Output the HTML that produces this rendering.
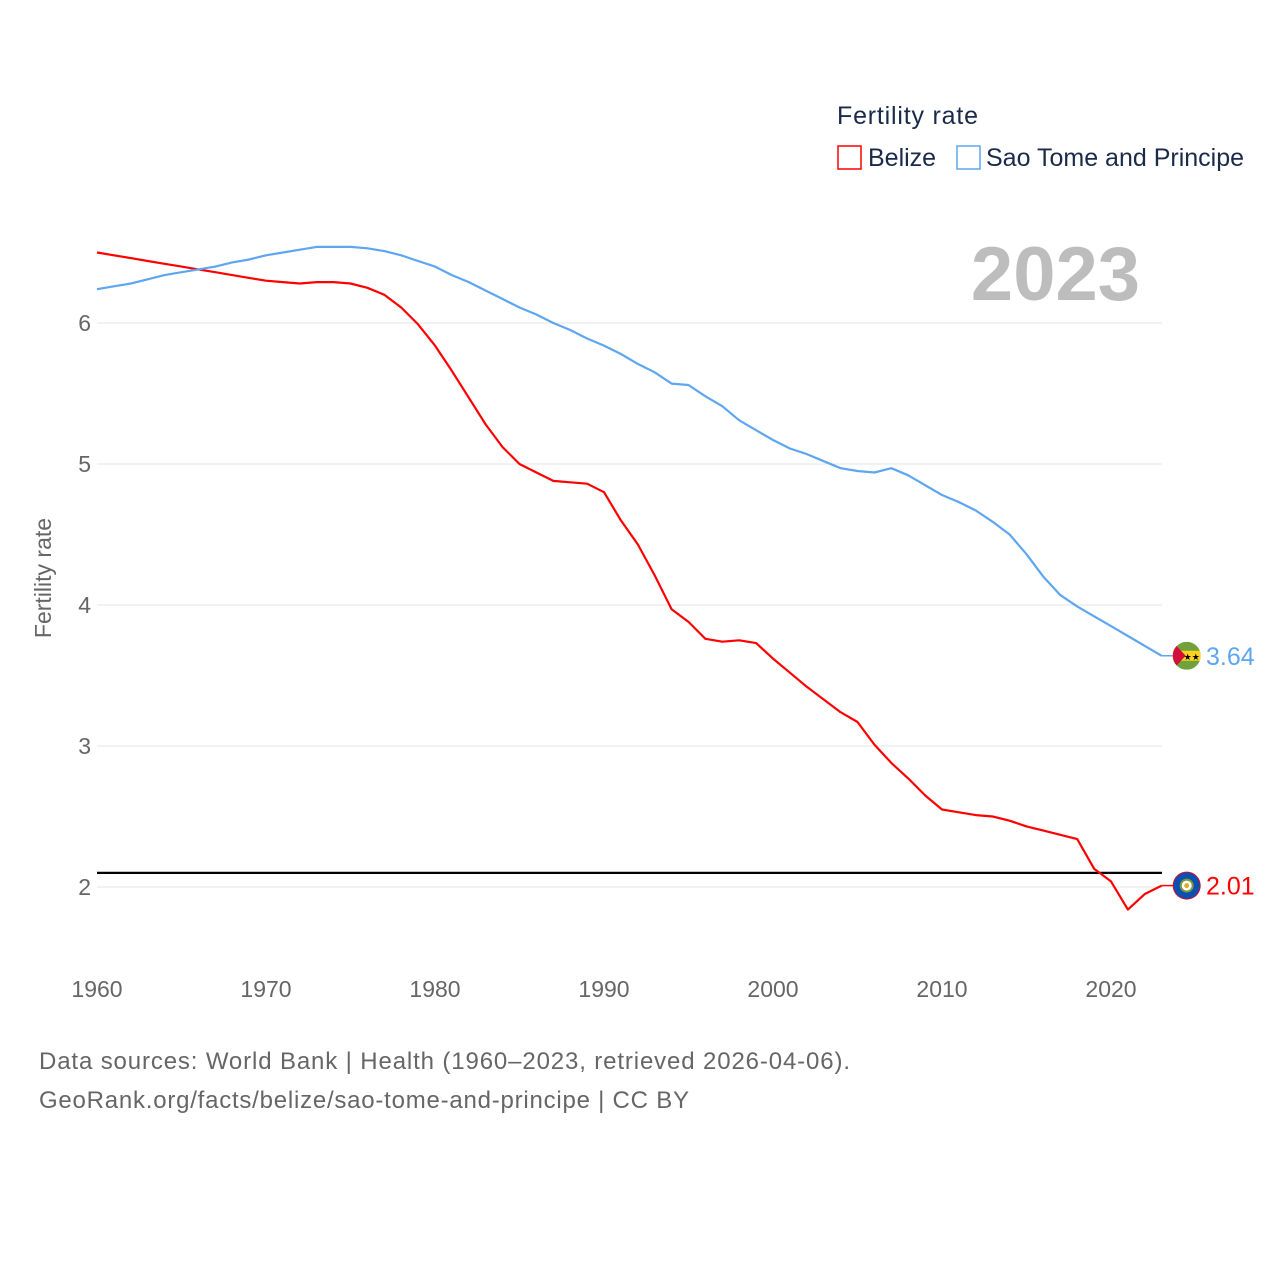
<!DOCTYPE html>
<html><head><meta charset="utf-8"><style>
html,body{margin:0;padding:0;background:#fff;width:1280px;height:1280px;overflow:hidden}
text{font-family:"Liberation Sans",sans-serif}
</style></head><body>
<svg id="chart" width="1280" height="1280" viewBox="0 0 1280 1280">
<text x="837" y="124" font-size="25" fill="#1a2a4a" textLength="141">Fertility rate</text>
<g><rect x="838" y="146" width="23" height="23" fill="none" stroke="#ff0000" stroke-width="1.5"/><text x="868" y="166" font-size="25" fill="#1a2a4a">Belize</text></g>
<g><rect x="957" y="146" width="23" height="23" fill="none" stroke="#5ea6f0" stroke-width="1.5"/><text x="986" y="166" font-size="25" fill="#1a2a4a">Sao Tome and Principe</text></g>
<text x="1140" y="300" font-size="76" font-weight="bold" fill="#bdbdbd" text-anchor="end">2023</text>
<g id="grid"></g><g id="xt"></g><g id="yt"></g>
<text transform="translate(51,578) rotate(-90)" font-size="23" fill="#666" text-anchor="middle">Fertility rate</text>
<g id="series"></g>
<text x="39" y="1069" font-size="24" fill="#666" textLength="811">Data sources: World Bank | Health (1960–2023, retrieved 2026-04-06).</text>
<text x="39" y="1108" font-size="24" fill="#666" textLength="650">GeoRank.org/facts/belize/sao-tome-and-principe | CC BY</text>
</svg>
<script>
const years=[];for(let y=1960;y<=2023;y++)years.push(y);
const belize=[6.50,6.48,6.46,6.44,6.42,6.40,6.38,6.36,6.34,6.32,6.30,6.29,6.28,6.29,6.29,6.28,6.25,6.20,6.11,5.99,5.84,5.66,5.47,5.28,5.12,5.00,4.94,4.88,4.87,4.86,4.80,4.60,4.43,4.21,3.97,3.88,3.76,3.74,3.75,3.73,3.62,3.52,3.42,3.33,3.24,3.17,3.01,2.88,2.77,2.65,2.55,2.53,2.51,2.50,2.47,2.43,2.40,2.37,2.34,2.13,2.04,1.84,1.95,2.01];
const stp=[6.24,6.26,6.28,6.31,6.34,6.36,6.38,6.40,6.43,6.45,6.48,6.50,6.52,6.54,6.54,6.54,6.53,6.51,6.48,6.44,6.40,6.34,6.29,6.23,6.17,6.11,6.06,6.00,5.95,5.89,5.84,5.78,5.71,5.65,5.57,5.56,5.48,5.41,5.31,5.24,5.17,5.11,5.07,5.02,4.97,4.95,4.94,4.97,4.92,4.85,4.78,4.73,4.67,4.59,4.50,4.36,4.20,4.07,3.99,3.92,3.85,3.78,3.71,3.64];
const yTicks=[2,3,4,5,6];
const xTicks=[1960,1970,1980,1990,2000,2010,2020];
const refLevel=2.1;
const NS="http://www.w3.org/2000/svg";
const X=y=>97+(y-1960)*(1111-97)/60;
const Y=v=>887-(v-2)*141;
function mk(t,a,p){const e=document.createElementNS(NS,t);for(const k in a)e.setAttribute(k,a[k]);p.appendChild(e);return e;}
const grid=document.getElementById('grid'),yt=document.getElementById('yt'),xt=document.getElementById('xt'),ser=document.getElementById('series');
yTicks.forEach(v=>{
const l=mk('line',{x1:97,x2:1162,y1:Y(v),y2:Y(v),stroke:'#e6e6e6','stroke-width':1},grid);


const t=mk('text',{x:91,y:Y(v)+8,'font-size':23,fill:'#666','text-anchor':'end'},yt);t.textContent=v;


});
xTicks.forEach(v=>{
const t=mk('text',{x:X(v),y:997,'font-size':23,fill:'#666','text-anchor':'middle'},xt);t.textContent=v;


});
const ref=mk('line',{x1:97,x2:1162,y1:Y(refLevel),y2:Y(refLevel),stroke:'#000','stroke-width':2.2},ser);


function line(vals,color,name){
const d=vals.map((v,i)=>(i?'L':'M')+X(years[i]).toFixed(1)+','+Y(v).toFixed(1)).join('');
const p=mk('path',{d:d,fill:'none',stroke:color,'stroke-width':2.2,'stroke-linejoin':'round'},ser);


const last=vals[vals.length-1],lx=X(years[years.length-1]),ly=Y(last);
mk('line',{x1:lx,x2:lx+12,y1:ly,y2:ly,stroke:color,'stroke-width':1.5},ser);
const t=mk('text',{x:1206,y:ly+9,'font-size':25,fill:color},ser);t.textContent=last.toFixed(2);


return [lx+25,ly];
}
const pb=line(belize,'#ff0000','belize');
const ps=line(stp,'#5ea6f0','sao-tome');
let g=mk('g',{},ser);


mk('circle',{cx:pb[0],cy:pb[1],r:14,fill:'#c8102e'},g);
mk('circle',{cx:pb[0],cy:pb[1],r:13,fill:'#0b4fb0'},g);
mk('circle',{cx:pb[0],cy:pb[1],r:6,fill:'#fff',stroke:'#7a9a3a','stroke-width':2},g);
mk('circle',{cx:pb[0],cy:pb[1],r:2.5,fill:'#d8b030'},g);
g=mk('g',{},ser);


const cx=ps[0],cy=ps[1];
mk('clipPath',{id:'cp'},g).appendChild(document.createElementNS(NS,'circle'));
const cc=g.querySelector('#cp circle');cc.setAttribute('cx',cx);cc.setAttribute('cy',cy);cc.setAttribute('r',14);
const gg=mk('g',{'clip-path':'url(#cp)'},g);
mk('rect',{x:cx-14,y:cy-14,width:28,height:28,fill:'#6fa23a'},gg);
mk('rect',{x:cx-14,y:cy-5,width:28,height:10,fill:'#ffd21f'},gg);
mk('polygon',{points:`${cx-14},${cy-14} ${cx-1},${cy} ${cx-14},${cy+14}`,fill:'#d2103a'},gg);
const st=mk('text',{x:cx+5,y:cy+4,'font-size':9,fill:'#000','text-anchor':'middle'},gg);st.textContent='★★';
</script>
</body></html>
